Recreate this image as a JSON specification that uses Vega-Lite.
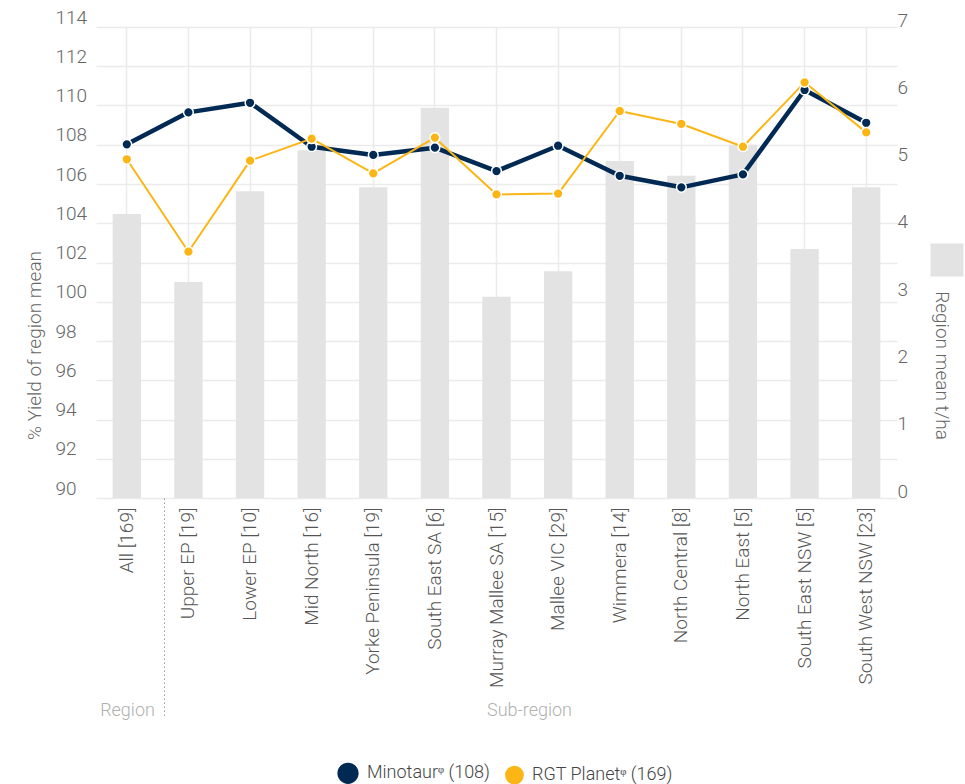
{
  "$schema": "https://vega.github.io/schema/vega-lite/v6.json",
  "autosize": "none",
  "width": 845,
  "height": 471,
  "padding": {"left": 55, "top": 27, "right": 65, "bottom": 286},
  "background": "white",
  "config": {
    "view": {"stroke": null},
    "font": "Roboto",
    "axis": {"labelFontWeight": 300, "titleFontWeight": 300, "labelFont": "Roboto", "titleFont": "Roboto"},
    "legend": {"labelFont": "Roboto", "labelFontWeight": 300}
  },
  "datasets": {
    "bars": [
      {"cat": "All [169]", "mean": 4.22},
      {"cat": "Upper EP [19]", "mean": 3.21},
      {"cat": "Lower EP [10]", "mean": 4.56},
      {"cat": "Mid North [16]", "mean": 5.17},
      {"cat": "Yorke Peninsula [19]", "mean": 4.62},
      {"cat": "South East SA [6]", "mean": 5.80},
      {"cat": "Murray Mallee SA [15]", "mean": 2.99},
      {"cat": "Mallee VIC [29]", "mean": 3.37},
      {"cat": "Wimmera [14]", "mean": 5.01},
      {"cat": "North Central [8]", "mean": 4.79},
      {"cat": "North East [5]", "mean": 5.25},
      {"cat": "South East NSW [5]", "mean": 3.70},
      {"cat": "South West NSW [23]", "mean": 4.62}
    ],
    "lines": [
      {"cat": "All [169]", "variety": "Minotaurᵠ (108)", "yield": 108.02},
      {"cat": "Upper EP [19]", "variety": "Minotaurᵠ (108)", "yield": 109.65},
      {"cat": "Lower EP [10]", "variety": "Minotaurᵠ (108)", "yield": 110.14},
      {"cat": "Mid North [16]", "variety": "Minotaurᵠ (108)", "yield": 107.9},
      {"cat": "Yorke Peninsula [19]", "variety": "Minotaurᵠ (108)", "yield": 107.48},
      {"cat": "South East SA [6]", "variety": "Minotaurᵠ (108)", "yield": 107.85},
      {"cat": "Murray Mallee SA [15]", "variety": "Minotaurᵠ (108)", "yield": 106.66},
      {"cat": "Mallee VIC [29]", "variety": "Minotaurᵠ (108)", "yield": 107.95},
      {"cat": "Wimmera [14]", "variety": "Minotaurᵠ (108)", "yield": 106.42},
      {"cat": "North Central [8]", "variety": "Minotaurᵠ (108)", "yield": 105.83},
      {"cat": "North East [5]", "variety": "Minotaurᵠ (108)", "yield": 106.49},
      {"cat": "South East NSW [5]", "variety": "Minotaurᵠ (108)", "yield": 110.79},
      {"cat": "South West NSW [23]", "variety": "Minotaurᵠ (108)", "yield": 109.12},
      {"cat": "All [169]", "variety": "RGT Planetᵠ (169)", "yield": 107.26},
      {"cat": "Upper EP [19]", "variety": "RGT Planetᵠ (169)", "yield": 102.55},
      {"cat": "Lower EP [10]", "variety": "RGT Planetᵠ (169)", "yield": 107.19},
      {"cat": "Mid North [16]", "variety": "RGT Planetᵠ (169)", "yield": 108.31},
      {"cat": "Yorke Peninsula [19]", "variety": "RGT Planetᵠ (169)", "yield": 106.54},
      {"cat": "South East SA [6]", "variety": "RGT Planetᵠ (169)", "yield": 108.36},
      {"cat": "Murray Mallee SA [15]", "variety": "RGT Planetᵠ (169)", "yield": 105.47},
      {"cat": "Mallee VIC [29]", "variety": "RGT Planetᵠ (169)", "yield": 105.51},
      {"cat": "Wimmera [14]", "variety": "RGT Planetᵠ (169)", "yield": 109.72},
      {"cat": "North Central [8]", "variety": "RGT Planetᵠ (169)", "yield": 109.06},
      {"cat": "North East [5]", "variety": "RGT Planetᵠ (169)", "yield": 107.9},
      {"cat": "South East NSW [5]", "variety": "RGT Planetᵠ (169)", "yield": 111.18},
      {"cat": "South West NSW [23]", "variety": "RGT Planetᵠ (169)", "yield": 108.63}
    ]
  },
  "layer": [
    {
      "data": {"name": "bars"},
      "mark": {"type": "bar", "width": {"band": 0.46}},
      "encoding": {
        "x": {
          "field": "cat", "type": "nominal", "sort": null,
          "scale": {"type": "band", "domain": ["All [169]","Upper EP [19]","Lower EP [10]","Mid North [16]","Yorke Peninsula [19]","South East SA [6]","Murray Mallee SA [15]","Mallee VIC [29]","Wimmera [14]","North Central [8]","North East [5]","South East NSW [5]","South West NSW [23]"], "range": [41, 842], "paddingInner": 0, "paddingOuter": 0},
          "axis": {
            "orient": "bottom", "values": ["All [169]"], "bandPosition": 1,
            "labels": false, "domain": false, "grid": false,
            "ticks": true, "tickSize": 220, "tickDash": [1.5, 2.5], "tickColor": "#9a9a9a", "tickWidth": 1, "tickOffset": 6.5,
            "title": "Region", "titleX": 72, "titleY": 212, "titleAlign": "center", "titleBaseline": "middle",
            "titleColor": "#b0b0b0", "titleFontSize": 18
          }
        },
        "y": {
          "field": "mean", "type": "quantitative",
          "scale": {"domain": [0, 7], "nice": false, "zero": true},
          "axis": {
            "orient": "right", "values": [0,1,2,3,4,5,6,7], "grid": false, "domain": false, "ticks": false,
            "labelAlign": "left", "labelPadding": -3, "labelBaseline": "alphabetic", "labelOffset": -1,
            "labelFontSize": 19, "labelColor": "#666666", "labelOverlap": false,
            "title": "Region mean t/ha", "titleAngle": 90, "titleX": 35, "titleY": 338,
            "titleAlign": "center", "titleBaseline": "alphabetic", "titleFontSize": 19, "titleColor": "#666666"
          }
        },
        "fill": {
          "datum": "Region mean t/ha",
          "scale": {"range": ["#e3e3e3"]},
          "legend": {
            "orient": "none", "legendX": 875, "legendY": 216, "title": null, "labelExpr": "''",
            "symbolType": "square", "symbolSize": 1090, "symbolStrokeWidth": 0, "padding": 0, "labelLimit": 1
          }
        }
      }
    },
    {
      "data": {"name": "lines"},
      "encoding": {
        "x": {
          "field": "cat", "type": "nominal", "sort": null,
          "scale": {"type": "band", "domain": ["All [169]","Upper EP [19]","Lower EP [10]","Mid North [16]","Yorke Peninsula [19]","South East SA [6]","Murray Mallee SA [15]","Mallee VIC [29]","Wimmera [14]","North Central [8]","North East [5]","South East NSW [5]","South West NSW [23]"], "range": [41, 842], "paddingInner": 0, "paddingOuter": 0},
          "axis": {
            "orient": "bottom", "bandPosition": 0.5, "labelAngle": -90, "labelFontSize": 19, "labelColor": "#555555",
            "labelPadding": 9, "ticks": false, "domain": false, "grid": true, "gridColor": "#ebebeb", "gridWidth": 1.5,
            "labelOverlap": false, "labelLimit": 300,
            "title": "Sub-region", "titleX": 474, "titleY": 212, "titleAlign": "center", "titleBaseline": "middle",
            "titleColor": "#b0b0b0", "titleFontSize": 18
          }
        },
        "y": {
          "field": "yield", "type": "quantitative",
          "scale": {"domain": [90, 114], "nice": false, "zero": false},
          "axis": {
            "orient": "left", "values": [90,92,94,96,98,100,102,104,106,108,110,112,114],
            "domain": false, "ticks": false, "grid": true, "gridColor": "#ebebeb", "gridWidth": 1.5,
            "labelAlign": "left", "labelPadding": 0, "labelBaseline": "alphabetic", "labelOffset": -4,
            "labelFontSize": 19, "labelColor": "#666666", "labelOverlap": false,
            "title": "% Yield of region mean", "titleX": -15, "titleY": 318, "titleAlign": "center",
            "titleBaseline": "alphabetic", "titleFontSize": 19, "titleColor": "#666666"
          }
        },
        "color": {
          "field": "variety", "type": "nominal",
          "scale": {"domain": ["Minotaurᵠ (108)", "RGT Planetᵠ (169)"], "range": ["#002a54", "#fbb615"]},
          "legend": {
            "orient": "none", "legendX": 282, "legendY": 735, "direction": "horizontal", "title": null,
            "symbolType": "circle", "symbolSize": 280, "symbolStrokeWidth": 0, "labelFontSize": 18,
            "labelColor": "#444444", "columnPadding": 12, "labelOffset": 8, "padding": 0
          }
        }
      },
      "layer": [
        {
          "mark": {"type": "line", "strokeJoin": "round"},
          "encoding": {
            "strokeWidth": {"field": "variety", "type": "nominal", "scale": {"domain": ["Minotaurᵠ (108)", "RGT Planetᵠ (169)"], "range": [4.5, 2]}, "legend": null}
          }
        },
        {
          "mark": {"type": "point", "filled": true, "opacity": 1, "size": 95, "stroke": "white", "strokeWidth": 1.5}
        }
      ]
    }
  ],
  "resolve": {"scale": {"y": "independent"}, "axis": {"x": "independent", "y": "independent"}}
}
